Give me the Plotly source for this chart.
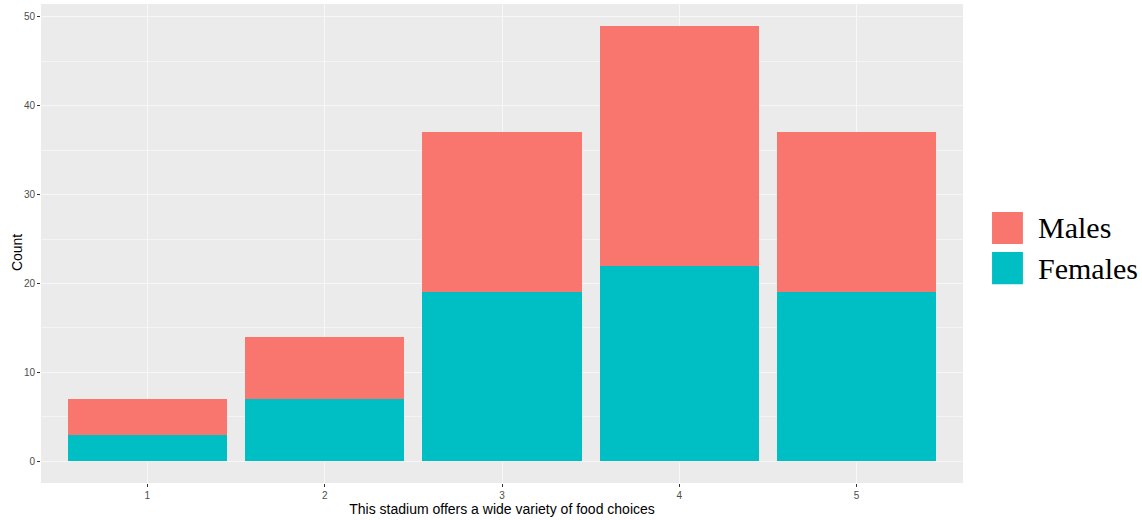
import plotly.graph_objects as go

categories = [1, 2, 3, 4, 5]
females = [3, 7, 19, 22, 19]
males = [4, 7, 18, 27, 18]
series_names = ["Males", "Females"]
colors = {"Males": "#F8766D", "Females": "#00BFC4"}

fig = go.Figure()
fig.add_trace(go.Bar(x=categories, y=females, name="Females", width=0.9,
                     marker=dict(color=colors["Females"], line=dict(width=0)), showlegend=False))
fig.add_trace(go.Bar(x=categories, y=males, name="Males", width=0.9,
                     marker=dict(color=colors["Males"], line=dict(width=0)), showlegend=False))

# manual legend (large keys like ggplot output)
leg_y = [(0.566, 0.499), (0.482, 0.415)]
for name, (y1, y0) in zip(series_names, leg_y):
    fig.add_shape(type="rect", xref="paper", yref="paper", x0=1.0315, x1=1.065, y0=y0, y1=y1,
                  fillcolor=colors[name], line=dict(width=0))
    fig.add_annotation(xref="paper", yref="paper", x=1.0795, y=(y0 + y1) / 2, text=name,
                       showarrow=False, xanchor="left", yanchor="middle",
                       font=dict(family="Liberation Serif", size=30, color="black"))

# y-axis title
fig.add_annotation(xref="paper", yref="paper", x=-0.026, y=0.48, text="Count", textangle=-90,
                   showarrow=False, xanchor="center", yanchor="middle",
                   font=dict(family="Liberation Sans", size=14, color="black"))

fig.update_layout(
    barmode="stack",
    width=1142, height=520,
    margin=dict(l=41, r=179, t=4, b=37),
    paper_bgcolor="white",
    plot_bgcolor="#EBEBEB",
    font=dict(family="Liberation Sans", color="#4D4D4D"),
    xaxis=dict(range=[0.4, 5.6], tickvals=categories, ticktext=[str(c) for c in categories],
               showgrid=True, gridcolor="#F7F7F7", gridwidth=1, zeroline=False, automargin=False,
               ticks="outside", ticklen=3, tickcolor="#333333", tickfont=dict(size=10, color="#4D4D4D"),
               title=dict(text="This stadium offers a wide variety of food choices",
                          font=dict(size=14, color="black"), standoff=0)),
    yaxis=dict(range=[-2.45, 51.45], tickvals=[0, 10, 20, 30, 40, 50],
               showgrid=True, gridcolor="#F7F7F7", gridwidth=1, zeroline=False, automargin=False,
               minor=dict(dtick=5, tick0=0, showgrid=True, gridcolor="#F4F4F4", gridwidth=0.5),
               ticks="outside", ticklen=3, tickcolor="#333333", tickfont=dict(size=10, color="#4D4D4D")),
)

fig.write_html("out.html", post_script="document.body.style.margin='0';",
               config={"displayModeBar": False})
